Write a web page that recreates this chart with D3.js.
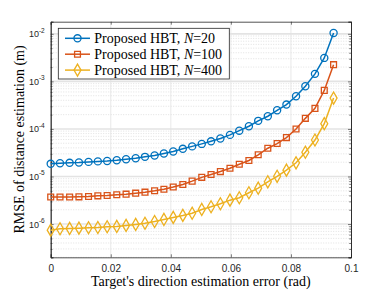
<!DOCTYPE html>
<html>
<head>
<meta charset="utf-8">
<script src="https://cdn.jsdelivr.net/npm/d3@7"></script>
<style>
  body { margin: 0; background: #fff; }
  svg { display: block; }
</style>
</head>
<body>
<div id="chart"></div>
<script>
// direction estimation error (rad)
var xVals = [0, 0.0031, 0.0063, 0.0094, 0.0126, 0.0157, 0.0188, 0.0220, 0.0251, 0.0283,
  0.0314, 0.0346, 0.0377, 0.0408, 0.0440, 0.0471, 0.0503, 0.0534, 0.0565, 0.0597,
  0.0628, 0.0660, 0.0691, 0.0723, 0.0754, 0.0785, 0.0817, 0.0848, 0.0880, 0.0911, 0.0942];
// RMSE of distance estimation (m)
var rmseN20 = [1.85e-5, 1.90e-5, 1.94e-5, 1.97e-5, 2.03e-5, 2.08e-5, 2.12e-5, 2.20e-5, 2.31e-5, 2.42e-5,
  2.59e-5, 2.76e-5, 3.04e-5, 3.35e-5, 3.82e-5, 4.30e-5, 4.85e-5, 5.50e-5, 6.30e-5, 7.50e-5,
  9.20e-5, 1.14e-4, 1.48e-4, 1.85e-4, 2.47e-4, 3.26e-4, 4.87e-4, 7.89e-4, 1.44e-3, 3.12e-3, 1.04e-2];
var rmseN100 = [3.70e-6, 3.70e-6, 3.70e-6, 3.74e-6, 3.80e-6, 3.92e-6, 3.99e-6, 4.13e-6, 4.25e-6, 4.46e-6,
  4.68e-6, 5.01e-6, 5.41e-6, 6.00e-6, 6.80e-6, 8.00e-6, 9.60e-6, 1.10e-5, 1.27e-5, 1.49e-5,
  1.81e-5, 2.17e-5, 2.86e-5, 3.93e-5, 4.93e-5, 6.59e-5, 9.95e-5, 1.67e-4, 2.71e-4, 6.47e-4, 2.25e-3];
var rmseN400 = [7.45e-7, 7.96e-7, 8.09e-7, 8.21e-7, 8.36e-7, 8.45e-7, 8.78e-7, 8.91e-7, 9.35e-7, 9.82e-7,
  1.04e-6, 1.13e-6, 1.25e-6, 1.38e-6, 1.52e-6, 1.69e-6, 2.03e-6, 2.31e-6, 2.67e-6, 3.18e-6,
  3.57e-6, 4.55e-6, 5.68e-6, 7.74e-6, 1.01e-5, 1.36e-5, 1.94e-5, 3.24e-5, 5.85e-5, 1.29e-4, 4.46e-4];
var seriesNames = ["20", "100", "400"];
var xTicks = [0, 0.02, 0.04, 0.06, 0.08, 0.1];
var xTickLabels = ["0", "0.02", "0.04", "0.06", "0.08", "0.1"];
var yTicks = [1e-6, 1e-5, 1e-4, 1e-3, 1e-2];
var yTickExps = ["-6", "-5", "-4", "-3", "-2"];

var width = 388, height = 291;
var margin = {top: 21.7, right: 37, bottom: 33.7, left: 50.7};
var w = width - margin.left - margin.right,
    h = height - margin.top - margin.bottom;
var colors = ["#0072BD", "#D95319", "#EDB120"];
var axisColor = "#262626";
var serif = "'Liberation Serif', 'Times New Roman', serif";
var sans = "'Liberation Sans', Arial, sans-serif";

var svg = d3.select("#chart")
    .append("svg")
    .attr("width", width)
    .attr("height", height);
var g = svg.append("g")
    .attr("transform", "translate(" + margin.left + "," + margin.top + ")");

//scales
var x = d3.scaleLinear().domain([0, 0.1]).range([0, w]);
var y = d3.scaleLog().domain([2e-7, 1.8e-2]).range([h, 0]);

//minor log grid (2..9 of each decade)
var minor = y.ticks().filter(function(d) {
  var m = d / Math.pow(10, Math.floor(Math.log10(d) + 1e-9));
  return Math.round(m) !== 1;
});
g.append("g").selectAll("line")
    .data(minor)
    .enter().append("line")
    .attr("x1", 0).attr("x2", w)
    .attr("y1", function(d) { return y(d); })
    .attr("y2", function(d) { return y(d); })
    .attr("stroke", "#cfcfcf")
    .attr("stroke-width", 0.6)
    .attr("stroke-dasharray", "1,1.5");

//major grid
g.append("g").selectAll("line")
    .data(yTicks)
    .enter().append("line")
    .attr("x1", 0).attr("x2", w)
    .attr("y1", function(d) { return y(d); })
    .attr("y2", function(d) { return y(d); })
    .attr("stroke", "#e3e3e3")
    .attr("stroke-width", 1.6);
g.append("g").selectAll("line")
    .data(xTicks.slice(1, -1))
    .enter().append("line")
    .attr("y1", 0).attr("y2", h)
    .attr("x1", function(d) { return x(d); })
    .attr("x2", function(d) { return x(d); })
    .attr("stroke", "#e3e3e3")
    .attr("stroke-width", 0.8);

//axes (ticks inward, box on)
var xAxis = g.append("g")
    .attr("transform", "translate(0," + h + ")")
    .call(d3.axisBottom(x).tickValues(xTicks).tickSize(-3).tickPadding(8)
      .tickFormat(function(d, i) { return xTickLabels[i]; }));
g.append("g")
    .call(d3.axisTop(x).tickValues(xTicks).tickSize(-3).tickFormat(""));
g.append("g")
    .call(d3.axisLeft(y).tickValues(yTicks).tickSize(-3).tickFormat(""));
g.append("g")
    .attr("transform", "translate(" + w + ",0)")
    .call(d3.axisRight(y).tickValues(yTicks).tickSize(-3).tickFormat(""));
g.append("g").call(d3.axisLeft(y).tickValues(minor).tickSize(-1.8).tickFormat(""));
g.append("g").attr("transform", "translate(" + w + ",0)")
    .call(d3.axisRight(y).tickValues(minor).tickSize(-1.8).tickFormat(""));
g.selectAll(".domain").attr("stroke", axisColor).attr("stroke-width", 0.8);
g.selectAll(".tick line").attr("stroke", axisColor).attr("stroke-width", 0.6);
xAxis.selectAll("text")
    .attr("fill", axisColor)
    .style("font-family", sans)
    .style("font-size", "10px");

//y tick labels with exponents
var yl = g.append("g").selectAll("text")
    .data(yTicks)
    .enter().append("text")
    .attr("x", -6)
    .attr("y", function(d) { return y(d) + 3.5; })
    .attr("text-anchor", "end")
    .attr("fill", axisColor)
    .style("font-family", sans)
    .style("font-size", "9px");
yl.append("tspan").text("10");
yl.append("tspan")
    .attr("dy", -4.5)
    .style("font-size", "6.5px")
    .text(function(d, i) { return yTickExps[i]; });

//series
var allSeries = [rmseN20, rmseN100, rmseN400];
var symTypes = [d3.symbolCircle, d3.symbolSquare, d3.symbolDiamond];
var symSize = [40, 34, 42];
var line = d3.line()
    .x(function(d, i) { return x(xVals[i]); })
    .y(function(d) { return y(d); });
allSeries.forEach(function(vals, k) {
  g.append("path")
      .datum(vals)
      .attr("d", line)
      .attr("fill", "none")
      .attr("stroke", colors[k])
      .attr("stroke-width", 1.5);
  g.selectAll(".m" + k)
      .data(vals)
      .enter().append("path")
      .attr("class", "m" + k)
      .attr("transform", function(d, i) { return "translate(" + x(xVals[i]) + "," + y(d) + ")"; })
      .attr("d", d3.symbol().type(symTypes[k]).size(symSize[k]))
      .attr("fill", "none")
      .attr("stroke", colors[k])
      .attr("stroke-width", 1.3);
});

//legend
var leg = svg.append("g").attr("transform", "translate(58.3,28.3)");
leg.append("rect")
    .attr("width", 171)
    .attr("height", 50.7)
    .attr("fill", "#fff")
    .attr("stroke", axisColor)
    .attr("stroke-width", 0.8);
seriesNames.forEach(function(n, k) {
  var ry = 10 + k * 15.9;
  leg.append("line")
      .attr("x1", 6.7).attr("x2", 31.7)
      .attr("y1", ry).attr("y2", ry)
      .attr("stroke", colors[k]).attr("stroke-width", 1.5);
  leg.append("path")
      .attr("transform", "translate(19.2," + ry + ")")
      .attr("d", d3.symbol().type(symTypes[k]).size(symSize[k]))
      .attr("fill", "none")
      .attr("stroke", colors[k])
      .attr("stroke-width", 1.3);
  var t = leg.append("text")
      .attr("x", 36)
      .attr("y", ry + 4.8)
      .attr("fill", "#000")
      .style("font-family", serif)
      .style("font-size", "14px");
  t.append("tspan").text("Proposed HBT, ");
  t.append("tspan").style("font-style", "italic").text("N");
  t.append("tspan").text("=" + n);
});

//axis titles
svg.append("text")
    .attr("x", margin.left + w / 2)
    .attr("y", 286)
    .attr("text-anchor", "middle")
    .style("font-family", serif)
    .style("font-size", "14px")
    .text("Target's direction estimation error (rad)");
svg.append("text")
    .attr("transform", "translate(24," + (margin.top + h / 2) + ") rotate(-90)")
    .attr("text-anchor", "middle")
    .style("font-family", serif)
    .style("font-size", "14px")
    .text("RMSE of distance estimation (m)");
</script>
</body>
</html>
